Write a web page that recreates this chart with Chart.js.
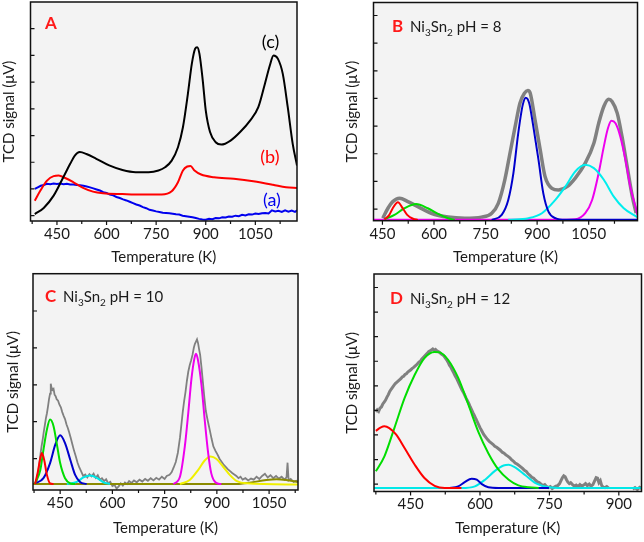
<!DOCTYPE html>
<html><head><meta charset="utf-8">
<script src="https://cdn.jsdelivr.net/npm/chart.js@4/dist/chart.umd.min.js"></script>
<style>
html,body{margin:0;padding:0;background:#fff;}
#wrap{position:relative;width:644px;height:542px;}
.p{position:absolute;width:322px;height:271px;}
</style></head><body>
<div id="wrap">
<div class="p" style="left:0;top:0"><canvas id="cA"></canvas></div>
<div class="p" style="left:322px;top:0"><canvas id="cB"></canvas></div>
<div class="p" style="left:0;top:271px"><canvas id="cC"></canvas></div>
<div class="p" style="left:322px;top:271px"><canvas id="cD"></canvas></div>
</div>
<script>
// ---------- text ----------
const xTitle = 'Temperature (K)';
const yTitle = 'TCD signal (\u03bcV)';
const curveLabelsA = ['(a)', '(b)', '(c)'];
const panelLetters = ['A', 'B', 'C', 'D'];
const formulaParts = ['Ni', '3', 'Sn', '2'];
const phTexts = [' pH = 8', ' pH = 10', ' pH = 12'];

// ---------- axis ranges / ticks ----------
const xStep = 75, xLabelStep = 150;
const yTicksA = [0, 1, 2, 3, 4, 5, 6, 7];
const yTicksB = [0.39, 1.39, 2.39, 3.39, 4.39, 5.39, 6.39, 7.39];
const yTicksC = [0.69, 1.69, 2.69, 3.69, 4.69];
const yTicksD = [0.16, 1.16, 2.16, 3.16, 4.16, 5.16, 6.16, 7.16, 8.16];

// ---------- panel A : [T (K), signal] ----------
const A_a = [[383,1.00],[392,1.06],[401,1.12],[410,1.15],[420,1.19],[430,1.18],[440,1.20],[450,1.19],[460,1.20],[470,1.18],[480,1.19],[490,1.17],[500,1.17],[510,1.15],[520,1.14],[530,1.12],[540,1.09],[550,1.06],[560,1.02],[570,0.98],[580,0.94],[590,0.88],[600,0.85],[610,0.79],[620,0.76],[630,0.70],[640,0.66],[650,0.61],[660,0.57],[670,0.52],[680,0.47],[690,0.42],[700,0.38],[710,0.32],[720,0.28],[730,0.22],[740,0.19],[750,0.16],[760,0.14],[770,0.11],[780,0.10],[790,0.09],[800,0.07],[810,0.05],[820,0.04],[830,0.00],[840,-0.02],[850,-0.04],[860,-0.06],[870,-0.09],[880,-0.12],[890,-0.14],[900,-0.15],[910,-0.12],[920,-0.13],[930,-0.09],[940,-0.10],[950,-0.06],[960,-0.07],[970,-0.03],[980,-0.04],[990,0.00],[1000,-0.02],[1010,0.03],[1020,0.01],[1030,0.05],[1040,0.04],[1050,0.08],[1060,0.06],[1070,0.09],[1080,0.10],[1090,0.08],[1100,0.20],[1110,0.16],[1120,0.18],[1130,0.14],[1140,0.20],[1150,0.15],[1160,0.19],[1170,0.14],[1176,0.20]];
const A_b = [[383,0.56],[400,0.94],[420,1.31],[440,1.48],[455,1.50],[475,1.41],[500,1.25],[529,1.04],[559,0.90],[589,0.84],[648,0.81],[707,0.79],[767,0.79],[797,0.91],[816,1.25],[831,1.69],[844,1.84],[854,1.86],[866,1.69],[886,1.54],[925,1.44],[985,1.38],[1044,1.29],[1103,1.16],[1143,1.06],[1176,1.04]];
const A_c = [[383,0.06],[410,0.29],[440,0.75],[470,1.46],[490,1.94],[504,2.25],[519,2.38],[539,2.31],[569,2.13],[608,1.88],[648,1.71],[688,1.63],[727,1.63],[757,1.69],[777,1.81],[797,2.06],[816,2.56],[831,3.31],[846,4.56],[858,5.69],[868,6.25],[874,6.31],[881,6.06],[891,5.06],[900,3.94],[913,3.13],[930,2.75],[947,2.66],[975,2.81],[1004,3.13],[1034,3.56],[1059,4.06],[1079,4.94],[1094,5.63],[1105,6.00],[1118,5.88],[1133,5.31],[1148,4.06],[1163,2.69],[1176,1.88]];
const A_labelPos = [[1100,0.59],[1094,2.20],[1096,6.50]];

// ---------- panel B ----------
const B_gray = [[451,0.06],[466,0.42],[480,0.66],[500,0.78],[524,0.66],[553,0.48],[592,0.24],[641,0.10],[690,0.06],[738,0.10],[768,0.24],[787,0.60],[806,1.45],[821,2.41],[836,3.37],[850,4.22],[863,4.58],[873,4.68],[880,4.58],[894,3.61],[909,2.53],[923,1.57],[943,1.14],[962,1.08],[987,1.20],[1011,1.51],[1040,2.05],[1065,2.77],[1079,3.49],[1094,4.10],[1108,4.36],[1118,4.28],[1133,3.86],[1147,3.01],[1162,1.92],[1177,0.84],[1188,0.24]];
const B_red = [[456,0.02],[470,0.18],[480,0.42],[495,0.64],[509,0.42],[522,0.18],[539,0.04],[553,0]];
const B_green = [[456,0.02],[485,0.18],[514,0.42],[548,0.57],[582,0.42],[612,0.22],[641,0.06],[660,0]];
const B_blue = [[768,0],[797,0.18],[816,0.72],[831,1.69],[845,3.13],[858,4.15],[867,4.42],[877,4.22],[889,3.37],[904,2.17],[918,0.96],[933,0.30],[953,0.06],[982,0],[1192,0]];
const B_cyan = [[816,0],[875,0.06],[914,0.24],[953,0.72],[982,1.20],[1011,1.75],[1040,1.99],[1065,1.87],[1094,1.45],[1123,0.84],[1152,0.42],[1191,0.10]];
const B_magenta = [[424,0],[953,0],[1011,0.02],[1040,0.24],[1060,0.72],[1079,1.69],[1094,2.65],[1106,3.31],[1116,3.58],[1128,3.49],[1142,3.01],[1157,2.17],[1171,1.20],[1186,0.48],[1192,0.18]];

// ---------- panel C ----------
const C_gray = [[378,0.02],[382,0.10],[385,0.25],[388,0.38],[391,0.62],[394,0.85],[397,1.05],[400,1.22],[403,1.42],[406,1.60],[409,1.78],[412,1.92],[415,2.10],[418,2.30],[421,2.45],[423,2.72],[425,2.62],[428,2.55],[431,2.58],[434,2.42],[437,2.38],[440,2.30],[444,2.26],[448,2.15],[452,2.08],[456,1.95],[460,1.85],[464,1.76],[468,1.62],[472,1.52],[476,1.40],[480,1.26],[485,1.08],[490,0.90],[495,0.75],[500,0.58],[505,0.45],[510,0.35],[516,0.22],[522,0.26],[528,0.18],[534,0.27],[540,0.21],[546,0.28],[552,0.17],[558,0.24],[564,0.12],[570,0.16],[576,0.08],[582,0.13],[588,0.02],[594,0.06],[600,-0.05],[606,-0.02],[612,-0.12],[618,-0.06],[624,0.02],[630,-0.04],[636,0.04],[642,0.00],[648,0.08],[655,0.03],[662,0.10],[670,0.05],[678,0.12],[686,0.07],[694,0.14],[702,0.09],[710,0.16],[718,0.10],[726,0.17],[734,0.12],[742,0.20],[750,0.14],[756,0.22],[764,0.25],[770,0.32],[776,0.45],[782,0.60],[788,0.85],[794,1.25],[798,1.60],[802,1.95],[806,2.25],[810,2.50],[814,2.80],[818,3.05],[822,3.22],[826,3.35],[830,3.50],[834,3.70],[837,3.80],[840,3.86],[843,3.92],[846,3.82],[849,3.65],[852,3.50],[856,3.15],[860,2.75],[864,2.35],[868,2.00],[872,1.80],[876,1.62],[880,1.45],[885,1.22],[890,1.02],[896,0.90],[902,0.80],[908,0.68],[914,0.60],[920,0.52],[926,0.46],[932,0.40],[938,0.35],[944,0.30],[950,0.26],[956,0.22],[962,0.16],[968,0.20],[974,0.12],[982,0.16],[990,0.10],[998,0.15],[1006,0.12],[1014,0.20],[1022,0.14],[1030,0.22],[1038,0.28],[1046,0.18],[1054,0.24],[1062,0.16],[1070,0.22],[1078,0.15],[1086,0.20],[1094,0.12],[1100,0.18],[1103,0.58],[1106,0.10],[1112,0.14],[1120,0.06],[1128,0.09],[1133,0.05]];
const C_red = [[378,0],[385,0.29],[393,0.70],[397.5,0.84],[404,0.66],[412,0.25],[421,0.02],[431,0]];
const C_green = [[378,0.02],[393,0.38],[402,0.93],[412,1.48],[421,1.75],[431,1.57],[440,1.11],[450,0.57],[464,0.16],[479,0.02],[493,0]];
const C_blue = [[378,0.02],[402,0.16],[421,0.57],[436,1.07],[450,1.32],[464,1.11],[479,0.66],[493,0.25],[507,0.06],[526,0]];
const C_cyan = [[469,0],[498,0.06],[517,0.18],[536,0.23],[555,0.17],[574,0.05],[593,0]];
const C_magenta = [[775,0],[794,0.20],[808,1.02],[818,1.94],[827,2.85],[835,3.38],[840,3.53],[846,3.35],[856,2.67],[865,1.75],[875,0.84],[884,0.29],[897,0.04],[913,0]];
const C_yellow = [[794,0],[822,0.11],[846,0.38],[865,0.64],[882,0.75],[899,0.68],[918,0.47],[937,0.25],[956,0.09],[985,0.02],[1133,-0.01]];
const C_olive = [[372,0],[947,0],[994,0.04],[1042,0.11],[1071,0.13],[1099,0.11],[1133,0.06]];

// ---------- panel D ----------
const D_gray = [[375,3.10],[378,3.18],[381,3.12],[384,3.25],[387,3.30],[390,3.42],[393,3.50],[396,3.58],[399,3.70],[402,3.80],[405,3.93],[408,4.02],[411,4.10],[414,4.18],[417,4.25],[420,4.30],[423,4.35],[426,4.40],[429,4.45],[432,4.52],[435,4.55],[438,4.62],[441,4.65],[444,4.72],[447,4.76],[450,4.80],[453,4.86],[456,4.90],[459,4.95],[462,5.00],[465,5.06],[468,5.12],[471,5.16],[474,5.24],[477,5.30],[480,5.36],[483,5.42],[486,5.48],[489,5.55],[492,5.58],[495,5.62],[498,5.66],[501,5.60],[504,5.64],[507,5.58],[510,5.55],[513,5.52],[516,5.46],[519,5.42],[522,5.38],[525,5.30],[528,5.22],[531,5.12],[534,5.00],[537,4.92],[540,4.80],[543,4.70],[546,4.58],[549,4.48],[552,4.36],[555,4.24],[558,4.12],[561,4.00],[564,3.90],[567,3.78],[570,3.66],[573,3.55],[576,3.44],[579,3.30],[582,3.18],[585,3.06],[588,2.95],[591,2.82],[594,2.70],[597,2.58],[600,2.46],[604,2.32],[608,2.18],[612,2.08],[616,1.98],[620,1.90],[624,1.84],[628,1.78],[632,1.70],[636,1.66],[640,1.60],[644,1.54],[648,1.46],[652,1.42],[656,1.35],[660,1.30],[664,1.24],[668,1.16],[672,1.10],[676,1.02],[680,0.98],[684,0.92],[688,0.86],[692,0.80],[696,0.72],[700,0.68],[704,0.58],[708,0.52],[712,0.44],[716,0.40],[720,0.32],[724,0.25],[728,0.22],[732,0.16],[736,0.10],[740,0.14],[744,0.06],[748,0.02],[752,0.06],[756,-0.02],[760,0.03],[764,0.08],[768,0.10],[772,0.18],[775,0.30],[778,0.42],[781,0.50],[784,0.46],[787,0.34],[790,0.24],[793,0.18],[796,0.22],[800,0.14],[804,0.08],[808,0.12],[812,0.06],[816,0.14],[820,0.08],[824,0.12],[828,0.18],[832,0.10],[836,0.16],[840,0.08],[844,0.14],[848,0.30],[851,0.42],[854,0.40],[857,0.22],[860,0.30],[863,0.10],[866,0.04],[870,0.02],[874,0.06],[878,0.00],[904,null],[930,-0.05],[935,0.02],[940,-0.06],[945,0.03],[949,-0.02]];
const D_red = [[375,2.33],[386,2.47],[393.5,2.51],[404,2.44],[419,2.17],[437,1.63],[459,0.95],[480,0.41],[502,0.09],[524,0],[560,0]];
const D_green = [[375,0.68],[393.5,1.29],[415,2.44],[437,3.66],[459,4.61],[480,5.29],[502,5.54],[513,5.52],[531,5.22],[553,4.48],[575,3.39],[596,2.31],[618,1.42],[640,0.75],[662,0.34],[683,0.11],[705,0.03],[727,0]];
const D_blue = [[531,0],[553,0.07],[567,0.24],[582,0.38],[593,0.34],[604,0.16],[618,0.03],[640,0],[749,0]];
const D_cyan = [[371,0],[560,0],[589,0.07],[611,0.34],[633,0.71],[651,0.92],[662,0.95],[676,0.84],[698,0.52],[720,0.20],[749,0.03],[778,0],[949,0]];

// ---------- helpers ----------
const FONT = 'Lato, "Open Sans", sans-serif';
Chart.defaults.font.family = FONT;
Chart.defaults.color = '#1a1a1a';
const pts = arr => arr.map(p => ({x: p[0], y: p[1]}));
const line = (data, color, w, tension) => ({data: pts(data), borderColor: color, borderWidth: w, pointRadius: 0, fill: false, tension: tension === undefined ? 0.35 : tension, cubicInterpolationMode: tension === 0 ? 'default' : 'monotone', spanGaps: false});

const extras = {};

const panelPlugin = {
  id: 'panelDeco',
  beforeDraw(chart) {
    const {ctx, chartArea: a} = chart;
    ctx.save();
    ctx.fillStyle = '#f3f3f3';
    ctx.fillRect(a.left, a.top, a.right - a.left, a.bottom - a.top);
    ctx.restore();
  },
  afterDraw(chart) {
    const e = extras[chart.canvas.id];
    const {ctx, chartArea: a, scales} = chart;
    ctx.save();
    ctx.strokeStyle = '#111';
    ctx.lineWidth = 1.5;
    ctx.strokeRect(a.left, a.top, a.right - a.left, a.bottom - a.top);
    ctx.lineWidth = 1.2;
    ctx.beginPath();
    scales.x.ticks.forEach(t => {
      const x = scales.x.getPixelForValue(t.value);
      const L = (t.value % xLabelStep === 0) ? 4 : 3;
      ctx.moveTo(x, a.bottom); ctx.lineTo(x, a.bottom + L);
    });
    scales.y.ticks.forEach(t => {
      const y = scales.y.getPixelForValue(t.value);
      ctx.moveTo(a.left, y); ctx.lineTo(a.left + 4, y);
    });
    ctx.stroke();
    // curve labels
    (e.labels || []).forEach(l => {
      ctx.font = '18px ' + FONT;
      ctx.fillStyle = l.color;
      ctx.textAlign = 'center';
      ctx.textBaseline = 'middle';
      ctx.fillText(l.text, scales.x.getPixelForValue(l.pos[0]), scales.y.getPixelForValue(l.pos[1]));
    });
    // heading
    ctx.textAlign = 'left';
    ctx.textBaseline = 'alphabetic';
    ctx.font = 'bold 17px ' + FONT;
    ctx.fillStyle = '#ff1a1a';
    ctx.fillText(e.letter, e.hx, e.hy);
    if (e.ph) {
      let x = e.tx;
      ctx.fillStyle = '#1a1a1a';
      formulaParts.forEach((s, i) => {
        const sub = i % 2 === 1;
        ctx.font = (sub ? '10px ' : '15px ') + FONT;
        ctx.fillText(s, x, e.hy + (sub ? 4 : 0));
        x += ctx.measureText(s).width;
      });
      ctx.font = '15px ' + FONT;
      ctx.fillText(e.ph, x, e.hy);
    }
    ctx.restore();
  }
};

function makePanel(id, cfg) {
  extras[id] = cfg.extra;
  const A = cfg.area;
  new Chart(document.getElementById(id), {
    type: 'line',
    data: {datasets: cfg.datasets},
    options: {
      responsive: true, maintainAspectRatio: false, animation: false, devicePixelRatio: 1,
      layout: {padding: {left: 0, top: A.t, right: 322 - A.r, bottom: 0}},
      plugins: {legend: {display: false}, tooltip: {enabled: false}},
      scales: {
        x: {
          type: 'linear', min: cfg.xMin, max: cfg.xMax,
          grid: {display: false, drawTicks: false, tickLength: 0}, border: {display: false},
          ticks: {stepSize: xStep, includeBounds: false, autoSkip: false, maxRotation: 0, minRotation: 0, padding: 4,
                  font: {size: 15}, color: '#1a1a1a',
                  callback: v => (v % xLabelStep === 0 ? String(v) : '')},
          title: {display: true, text: xTitle, font: {size: 15}, color: '#1a1a1a', padding: {top: 0, bottom: 5}},
          afterFit: s => { s.height = 271 - A.b; }
        },
        y: {
          type: 'linear', min: cfg.yMin, max: cfg.yMax,
          grid: {display: false, drawTicks: false, tickLength: 0}, border: {display: false},
          ticks: {display: false},
          afterBuildTicks: s => { s.ticks = cfg.yTicks.map(v => ({value: v})); },
          title: {display: true, text: yTitle, font: {size: 15}, color: '#1a1a1a', padding: {top: cfg.yTitlePad, bottom: 0}},
          afterFit: s => { s.width = A.l; }
        }
      }
    },
    plugins: [panelPlugin]
  });
}

makePanel('cA', {
  area: {l: 30.5, r: 297, t: 2, b: 221}, xMin: 370, xMax: 1176, yMin: -0.2, yMax: 8.0, yTicks: yTicksA, yTitlePad: 0,
  datasets: [line(A_c, '#000000', 2), line(A_b, '#ff0000', 2), line(A_a, '#0000ee', 2, 0)],
  extra: {letter: panelLetters[0], hx: 45, hy: 29,
    labels: [{text: curveLabelsA[0], color: '#0000ee', pos: A_labelPos[0]},
             {text: curveLabelsA[1], color: '#ff0000', pos: A_labelPos[1]},
             {text: curveLabelsA[2], color: '#000000', pos: A_labelPos[2]}]}
});

makePanel('cB', {
  area: {l: 51.5, r: 315.5, t: 2.5, b: 220.7}, xMin: 424, xMax: 1192, yMin: -0.03, yMax: 7.86, yTicks: yTicksB, yTitlePad: 21,
  datasets: [line(B_red, '#ff0000', 2), line(B_green, '#00dd00', 2), line(B_blue, '#0000cc', 2),
             line(B_cyan, '#00eeee', 2), line(B_magenta, '#ee00ee', 2), line(B_gray, '#808080', 3.5)],
  extra: {letter: panelLetters[1], hx: 70, hy: 32, tx: 88, ph: phTexts[0]}
});

makePanel('cC', {
  area: {l: 33, r: 298, t: 2.7, b: 219}, xMin: 372, xMax: 1133, yMin: -0.16, yMax: 5.70, yTicks: yTicksC, yTitlePad: 4,
  datasets: [line(C_red, '#ff0000', 2), line(C_green, '#00dd00', 2), line(C_blue, '#0000cc', 2),
             line(C_cyan, '#00e8e8', 2), line(C_magenta, '#ee00ee', 2), line(C_yellow, '#f0f000', 2),
             line(C_olive, '#8b8b00', 2), line(C_gray, '#808080', 1.8, 0)],
  extra: {letter: panelLetters[2], hx: 45, hy: 31, tx: 63, ph: phTexts[1]}
});

makePanel('cD', {
  area: {l: 52, r: 319.5, t: 3, b: 220.5}, xMin: 371, xMax: 949, yMin: -0.14, yMax: 8.71, yTicks: yTicksD, yTitlePad: 21,
  datasets: [line(D_red, '#ff0000', 2), line(D_green, '#00dd00', 2), line(D_blue, '#0000cc', 2),
             line(D_cyan, '#00e8e8', 2), line(D_gray, '#808080', 3, 0)],
  extra: {letter: panelLetters[3], hx: 68, hy: 33, tx: 88, ph: phTexts[2]}
});
</script>
</body></html>
